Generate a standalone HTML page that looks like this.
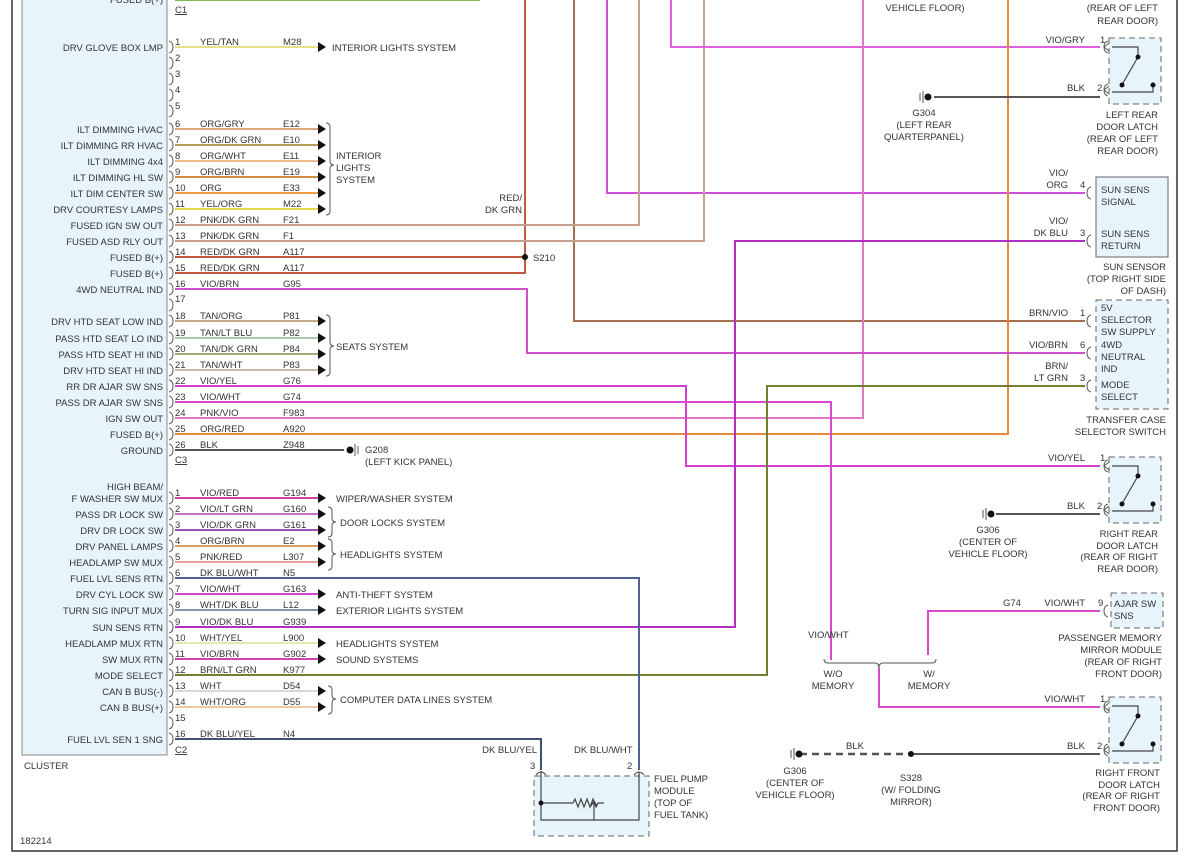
<!DOCTYPE html>
<html><head><meta charset="utf-8"><style>
html,body{margin:0;padding:0;background:#fff}
svg{display:block}
text{font-family:"Liberation Sans",sans-serif;font-size:9.5px;fill:#333}
.e{text-anchor:end}
.w{fill:none;stroke-width:2}
</style></head><body>
<svg width="1188" height="867" viewBox="0 0 1188 867" xmlns="http://www.w3.org/2000/svg">
<defs>
<path id="ar" d="M0,-5 L8,0 L0,5 Z" fill="#111"/>
<path id="cn" d="M0,-6 q4,1 4,6 q0,5 -4,6" fill="none" stroke="#555" stroke-width="1"/>
<path id="fc" d="M0,-6 q-4,1 -4,6 q0,5 4,6 M-4,0 l5,-4 M-4,0 l5,4" fill="none" stroke="#555" stroke-width="1"/>
<path id="fs" d="M0,-6 q-4,1 -4,6 q0,5 4,6" fill="none" stroke="#555" stroke-width="1"/>
<g id="gnd"><line x1="-8" y1="-4" x2="-8" y2="4" stroke="#555"/><line x1="-5" y1="-6" x2="-5" y2="6" stroke="#555"/><circle cx="0" cy="0" r="3.5" fill="#111"/></g>
<g id="latch">
<rect x="0" y="0" width="52" height="66" fill="#e8f4fc" stroke="#666" stroke-dasharray="6,4"/>
<path d="M3,9 H29 V19 M29,19 L14,45 M3,54 H44 V46" fill="none" stroke="#444" stroke-width="1.2"/>
<circle cx="29" cy="19" r="2.5" fill="#111"/><circle cx="13" cy="47" r="2.5" fill="#111"/><circle cx="44" cy="47" r="2.5" fill="#111"/>
</g>
</defs>
<!-- outer frame -->
<rect x="12" y="-5" width="1165" height="856" fill="none" stroke="#333" stroke-width="1.5"/>
<!-- cluster -->
<rect x="22" y="-5" width="145" height="760" fill="#e8f4fc" stroke="#888"/>
<text x="24" y="769">CLUSTER</text>
<text x="20" y="844">182214</text>
<text x="163" y="3" class="e">FUSED B(+)</text>
<line x1="175" y1="0" x2="480" y2="0" stroke="#80c050" stroke-width="2"/>
<text x="175" y="13" text-decoration="underline">C1</text>
<text x="175" y="463" text-decoration="underline">C3</text>
<text x="175" y="753" text-decoration="underline">C2</text>

<!-- verticals and routed wires -->
<path class="w" stroke="#c05a40" d="M175,257 H525 M175,273 H525 V0"/>
<circle cx="525" cy="257" r="3" fill="#111"/><text x="533" y="261">S210</text>
<text x="522" y="201" class="e">RED/</text><text x="522" y="213" class="e">DK GRN</text>
<path class="w" stroke="#a86e50" d="M574,0 V321 H1085"/>
<path class="w" stroke="#d050d8" d="M607,0 V193 H1085"/>
<path class="w" stroke="#c8a090" d="M175,225 H639 V0 M175,241 H704 V0"/>
<path class="w" stroke="#e060e0" d="M671,0 V47 H1100"/>
<path class="w" stroke="#e078c8" d="M175,418 H863 V0"/>
<path class="w" stroke="#e88838" d="M175,434 H1008 V0"/>
<path class="w" stroke="#d050c8" d="M175,289 H527 V353 H1085"/>
<path class="w" stroke="#d040d0" d="M175,386 H686 V466 H1100"/>
<path class="w" stroke="#d848d0" d="M175,402 H831 V660"/>
<path class="w" stroke="#b030c0" d="M175,627 H735 V241 H1085"/>
<path class="w" stroke="#708030" d="M175,675 H767 V386 H1085"/>
<path class="w" stroke="#506090" d="M175,578 H639 V770"/>
<path class="w" stroke="#405070" d="M175,739 H541 V770"/>
<path class="w" stroke="#d848d0" d="M928,655 V611 H1100 M879,668 V707 H1100"/>
<path fill="none" stroke="#555" d="M824,659 q0,4 4,4 H875 q4,0 4,5 q0,-5 4,-5 H932 q4,0 4,-4"/>
<text x="808" y="638">VIO/WHT</text>
<text x="833" y="677" text-anchor="middle">W/O</text><text x="833" y="689" text-anchor="middle">MEMORY</text>
<text x="929" y="677" text-anchor="middle">W/</text><text x="929" y="689" text-anchor="middle">MEMORY</text>

<!-- C1 rows -->
<g>
<text x="163" y="51" class="e">DRV GLOVE BOX LMP</text><text x="175" y="45">1</text><text x="200" y="45">YEL/TAN</text><text x="283" y="45">M28</text><line x1="175" y1="47" x2="318" y2="47" stroke="#e6e08a" stroke-width="2"/><use href="#ar" x="318" y="47"/><text x="332" y="51">INTERIOR LIGHTS SYSTEM</text>
<text x="175" y="61">2</text><text x="175" y="77">3</text><text x="175" y="93">4</text><text x="175" y="109">5</text>
<text x="163" y="133" class="e">ILT DIMMING HVAC</text><text x="175" y="127">6</text><text x="200" y="127">ORG/GRY</text><text x="283" y="127">E12</text><line x1="175" y1="129" x2="318" y2="129" stroke="#e0a878" stroke-width="2"/><use href="#ar" x="318" y="129"/>
<text x="163" y="149" class="e">ILT DIMMING RR HVAC</text><text x="175" y="143">7</text><text x="200" y="143">ORG/DK GRN</text><text x="283" y="143">E10</text><line x1="175" y1="145" x2="318" y2="145" stroke="#b89a58" stroke-width="2"/><use href="#ar" x="318" y="145"/>
<text x="163" y="165" class="e">ILT DIMMING 4x4</text><text x="175" y="159">8</text><text x="200" y="159">ORG/WHT</text><text x="283" y="159">E11</text><line x1="175" y1="161" x2="318" y2="161" stroke="#f0b888" stroke-width="2"/><use href="#ar" x="318" y="161"/>
<text x="163" y="181" class="e">ILT DIMMING HL SW</text><text x="175" y="175">9</text><text x="200" y="175">ORG/BRN</text><text x="283" y="175">E19</text><line x1="175" y1="177" x2="318" y2="177" stroke="#d08a48" stroke-width="2"/><use href="#ar" x="318" y="177"/>
<text x="163" y="197" class="e">ILT DIM CENTER SW</text><text x="175" y="191">10</text><text x="200" y="191">ORG</text><text x="283" y="191">E33</text><line x1="175" y1="193" x2="318" y2="193" stroke="#f09a40" stroke-width="2"/><use href="#ar" x="318" y="193"/>
<text x="163" y="213" class="e">DRV COURTESY LAMPS</text><text x="175" y="207">11</text><text x="200" y="207">YEL/ORG</text><text x="283" y="207">M22</text><line x1="175" y1="209" x2="318" y2="209" stroke="#e8d84a" stroke-width="2"/><use href="#ar" x="318" y="209"/>
<path fill="none" stroke="#555" d="M326,123 q4,0 4,4 V161 q0,4 4,4 q-4,0 -4,4 V211 q0,4 -4,4"/>
<text x="336" y="159">INTERIOR</text><text x="336" y="171">LIGHTS</text><text x="336" y="183">SYSTEM</text>
<text x="163" y="229" class="e">FUSED IGN SW OUT</text><text x="175" y="223">12</text><text x="200" y="223">PNK/DK GRN</text><text x="283" y="223">F21</text>
<text x="163" y="245" class="e">FUSED ASD RLY OUT</text><text x="175" y="239">13</text><text x="200" y="239">PNK/DK GRN</text><text x="283" y="239">F1</text>
<text x="163" y="261" class="e">FUSED B(+)</text><text x="175" y="255">14</text><text x="200" y="255">RED/DK GRN</text><text x="283" y="255">A117</text>
<text x="163" y="277" class="e">FUSED B(+)</text><text x="175" y="271">15</text><text x="200" y="271">RED/DK GRN</text><text x="283" y="271">A117</text>
<text x="163" y="293" class="e">4WD NEUTRAL IND</text><text x="175" y="287">16</text><text x="200" y="287">VIO/BRN</text><text x="283" y="287">G95</text>
<text x="175" y="302">17</text>
<text x="163" y="325" class="e">DRV HTD SEAT LOW IND</text><text x="175" y="319">18</text><text x="200" y="319">TAN/ORG</text><text x="283" y="319">P81</text><line x1="175" y1="321" x2="318" y2="321" stroke="#c8aa80" stroke-width="2"/><use href="#ar" x="318" y="321"/>
<text x="163" y="342" class="e">PASS HTD SEAT LO IND</text><text x="175" y="336">19</text><text x="200" y="336">TAN/LT BLU</text><text x="283" y="336">P82</text><line x1="175" y1="338" x2="318" y2="338" stroke="#a8c8b0" stroke-width="2"/><use href="#ar" x="318" y="338"/>
<text x="163" y="358" class="e">PASS HTD SEAT HI IND</text><text x="175" y="352">20</text><text x="200" y="352">TAN/DK GRN</text><text x="283" y="352">P84</text><line x1="175" y1="354" x2="318" y2="354" stroke="#a8a878" stroke-width="2"/><use href="#ar" x="318" y="354"/>
<text x="163" y="374" class="e">DRV HTD SEAT HI IND</text><text x="175" y="368">21</text><text x="200" y="368">TAN/WHT</text><text x="283" y="368">P83</text><line x1="175" y1="370" x2="318" y2="370" stroke="#c8bca8" stroke-width="2"/><use href="#ar" x="318" y="370"/>
<path fill="none" stroke="#555" d="M326,315 q4,0 4,4 V342 q0,4 4,4 q-4,0 -4,4 V372 q0,4 -4,4"/>
<text x="336" y="350">SEATS SYSTEM</text>
<text x="163" y="390" class="e">RR DR AJAR SW SNS</text><text x="175" y="384">22</text><text x="200" y="384">VIO/YEL</text><text x="283" y="384">G76</text>
<text x="163" y="406" class="e">PASS DR AJAR SW SNS</text><text x="175" y="400">23</text><text x="200" y="400">VIO/WHT</text><text x="283" y="400">G74</text>
<text x="163" y="422" class="e">IGN SW OUT</text><text x="175" y="416">24</text><text x="200" y="416">PNK/VIO</text><text x="283" y="416">F983</text>
<text x="163" y="438" class="e">FUSED B(+)</text><text x="175" y="432">25</text><text x="200" y="432">ORG/RED</text><text x="283" y="432">A920</text>
<text x="163" y="454" class="e">GROUND</text><text x="175" y="448">26</text><text x="200" y="448">BLK</text><text x="283" y="448">Z948</text>
<line x1="175" y1="450" x2="344" y2="450" stroke="#555" stroke-width="2"/>
<g transform="translate(350,450) scale(-1,1)"><use href="#gnd"/></g>
<text x="365" y="453">G208</text><text x="365" y="465">(LEFT KICK PANEL)</text>
</g>

<!-- C2 rows -->
<g>
<text x="163" y="490" class="e">HIGH BEAM/</text><text x="163" y="502" class="e">F WASHER SW MUX</text><text x="175" y="496">1</text><text x="200" y="496">VIO/RED</text><text x="283" y="496">G194</text><line x1="175" y1="498" x2="318" y2="498" stroke="#d040a8" stroke-width="2"/><use href="#ar" x="318" y="498"/><text x="336" y="502">WIPER/WASHER SYSTEM</text>
<text x="163" y="518" class="e">PASS DR LOCK SW</text><text x="175" y="512">2</text><text x="200" y="512">VIO/LT GRN</text><text x="283" y="512">G160</text><line x1="175" y1="514" x2="318" y2="514" stroke="#c070c8" stroke-width="2"/><use href="#ar" x="318" y="514"/>
<text x="163" y="534" class="e">DRV DR LOCK SW</text><text x="175" y="528">3</text><text x="200" y="528">VIO/DK GRN</text><text x="283" y="528">G161</text><line x1="175" y1="530" x2="318" y2="530" stroke="#a050b0" stroke-width="2"/><use href="#ar" x="318" y="530"/>
<path fill="none" stroke="#555" d="M328,507 q4,0 4,4 V518 q0,4 4,4 q-4,0 -4,4 V533 q0,4 -4,4"/><text x="340" y="526">DOOR LOCKS SYSTEM</text>
<text x="163" y="550" class="e">DRV PANEL LAMPS</text><text x="175" y="544">4</text><text x="200" y="544">ORG/BRN</text><text x="283" y="544">E2</text><line x1="175" y1="546" x2="318" y2="546" stroke="#d8a060" stroke-width="2"/><use href="#ar" x="318" y="546"/>
<text x="163" y="566" class="e">HEADLAMP SW MUX</text><text x="175" y="560">5</text><text x="200" y="560">PNK/RED</text><text x="283" y="560">L307</text><line x1="175" y1="562" x2="318" y2="562" stroke="#e8a0a0" stroke-width="2"/><use href="#ar" x="318" y="562"/>
<path fill="none" stroke="#555" d="M328,539 q4,0 4,4 V550 q0,4 4,4 q-4,0 -4,4 V566 q0,4 -4,4"/><text x="340" y="558">HEADLIGHTS SYSTEM</text>
<text x="163" y="582" class="e">FUEL LVL SENS RTN</text><text x="175" y="576">6</text><text x="200" y="576">DK BLU/WHT</text><text x="283" y="576">N5</text>
<text x="163" y="598" class="e">DRV CYL LOCK SW</text><text x="175" y="592">7</text><text x="200" y="592">VIO/WHT</text><text x="283" y="592">G163</text><line x1="175" y1="594" x2="318" y2="594" stroke="#d048d0" stroke-width="2"/><use href="#ar" x="318" y="594"/><text x="336" y="598">ANTI-THEFT SYSTEM</text>
<text x="163" y="614" class="e">TURN SIG INPUT MUX</text><text x="175" y="608">8</text><text x="200" y="608">WHT/DK BLU</text><text x="283" y="608">L12</text><line x1="175" y1="610" x2="318" y2="610" stroke="#8890b0" stroke-width="2"/><use href="#ar" x="318" y="610"/><text x="336" y="614">EXTERIOR LIGHTS SYSTEM</text>
<text x="163" y="631" class="e">SUN SENS RTN</text><text x="175" y="625">9</text><text x="200" y="625">VIO/DK BLU</text><text x="283" y="625">G939</text>
<text x="163" y="647" class="e">HEADLAMP MUX RTN</text><text x="175" y="641">10</text><text x="200" y="641">WHT/YEL</text><text x="283" y="641">L900</text><line x1="175" y1="643" x2="318" y2="643" stroke="#e8e8b0" stroke-width="2"/><use href="#ar" x="318" y="643"/><text x="336" y="647">HEADLIGHTS SYSTEM</text>
<text x="163" y="663" class="e">SW MUX RTN</text><text x="175" y="657">11</text><text x="200" y="657">VIO/BRN</text><text x="283" y="657">G902</text><line x1="175" y1="659" x2="318" y2="659" stroke="#d040b8" stroke-width="2"/><use href="#ar" x="318" y="659"/><text x="336" y="663">SOUND SYSTEMS</text>
<text x="163" y="679" class="e">MODE SELECT</text><text x="175" y="673">12</text><text x="200" y="673">BRN/LT GRN</text><text x="283" y="673">K977</text>
<text x="163" y="695" class="e">CAN B BUS(-)</text><text x="175" y="689">13</text><text x="200" y="689">WHT</text><text x="283" y="689">D54</text><line x1="175" y1="691" x2="318" y2="691" stroke="#d8d8d8" stroke-width="2"/><use href="#ar" x="318" y="691"/>
<text x="163" y="711" class="e">CAN B BUS(+)</text><text x="175" y="705">14</text><text x="200" y="705">WHT/ORG</text><text x="283" y="705">D55</text><line x1="175" y1="707" x2="318" y2="707" stroke="#f0c8a8" stroke-width="2"/><use href="#ar" x="318" y="707"/>
<path fill="none" stroke="#555" d="M328,686 q4,0 4,4 V695 q0,4 4,4 q-4,0 -4,4 V710 q0,4 -4,4"/><text x="340" y="703">COMPUTER DATA LINES SYSTEM</text>
<text x="175" y="721">15</text>
<text x="163" y="743" class="e">FUEL LVL SEN 1 SNG</text><text x="175" y="737">16</text><text x="200" y="737">DK BLU/YEL</text><text x="283" y="737">N4</text>
</g>
<!-- connector glyphs -->
<g>
<use href="#cn" x="169" y="47"/><use href="#cn" x="169" y="63"/><use href="#cn" x="169" y="79"/><use href="#cn" x="169" y="95"/><use href="#cn" x="169" y="111"/>
<use href="#cn" x="169" y="129"/><use href="#cn" x="169" y="145"/><use href="#cn" x="169" y="161"/><use href="#cn" x="169" y="177"/><use href="#cn" x="169" y="193"/><use href="#cn" x="169" y="209"/><use href="#cn" x="169" y="225"/><use href="#cn" x="169" y="241"/><use href="#cn" x="169" y="257"/><use href="#cn" x="169" y="273"/><use href="#cn" x="169" y="289"/><use href="#cn" x="169" y="305"/><use href="#cn" x="169" y="321"/><use href="#cn" x="169" y="338"/><use href="#cn" x="169" y="354"/><use href="#cn" x="169" y="370"/><use href="#cn" x="169" y="386"/><use href="#cn" x="169" y="402"/><use href="#cn" x="169" y="418"/><use href="#cn" x="169" y="434"/><use href="#cn" x="169" y="450"/>
<use href="#cn" x="169" y="498"/><use href="#cn" x="169" y="514"/><use href="#cn" x="169" y="530"/><use href="#cn" x="169" y="546"/><use href="#cn" x="169" y="562"/><use href="#cn" x="169" y="578"/><use href="#cn" x="169" y="594"/><use href="#cn" x="169" y="610"/><use href="#cn" x="169" y="627"/><use href="#cn" x="169" y="643"/><use href="#cn" x="169" y="659"/><use href="#cn" x="169" y="675"/><use href="#cn" x="169" y="691"/><use href="#cn" x="169" y="707"/><use href="#cn" x="169" y="723"/><use href="#cn" x="169" y="739"/>
</g>

<!-- top right texts -->
<text x="925" y="11" text-anchor="middle">VEHICLE FLOOR)</text>
<text x="1158" y="11" class="e">(REAR OF LEFT</text><text x="1158" y="24" class="e">REAR DOOR)</text>
<!-- left rear latch -->
<use href="#latch" x="1109" y="38"/>
<text x="1085" y="43" class="e">VIO/GRY</text><text x="1100" y="43">1</text><use href="#fc" x="1108" y="47"/>
<line x1="934" y1="97" x2="1100" y2="97" stroke="#555" stroke-width="2"/>
<text x="1085" y="91" class="e">BLK</text><text x="1097" y="91">2</text><use href="#fc" x="1108" y="90"/>
<use href="#gnd" x="928" y="97"/>
<text x="924" y="116" text-anchor="middle">G304</text><text x="924" y="128" text-anchor="middle">(LEFT REAR</text><text x="924" y="140" text-anchor="middle">QUARTERPANEL)</text>
<text x="1158" y="118" class="e">LEFT REAR</text><text x="1158" y="130" class="e">DOOR LATCH</text><text x="1158" y="142" class="e">(REAR OF LEFT</text><text x="1158" y="154" class="e">REAR DOOR)</text>
<!-- sun sensor -->
<rect x="1096" y="177" width="72" height="80" fill="#e8f4fc" stroke="#666"/>
<text x="1101" y="193">SUN SENS</text><text x="1101" y="205">SIGNAL</text><text x="1101" y="237">SUN SENS</text><text x="1101" y="249">RETURN</text>
<text x="1068" y="176" class="e">VIO/</text><text x="1068" y="188" class="e">ORG</text><text x="1080" y="188">4</text><use href="#fs" x="1091" y="193"/>
<text x="1068" y="224" class="e">VIO/</text><text x="1068" y="236" class="e">DK BLU</text><text x="1080" y="236">3</text><use href="#fs" x="1091" y="241"/>
<text x="1166" y="270" class="e">SUN SENSOR</text><text x="1166" y="282" class="e">(TOP RIGHT SIDE</text><text x="1166" y="294" class="e">OF DASH)</text>
<!-- transfer case -->
<rect x="1096" y="300" width="72" height="109" fill="#e8f4fc" stroke="#666" stroke-dasharray="6,4"/>
<text x="1101" y="311">5V</text><text x="1101" y="323">SELECTOR</text><text x="1101" y="335">SW SUPPLY</text><text x="1101" y="348">4WD</text><text x="1101" y="360">NEUTRAL</text><text x="1101" y="372">IND</text><text x="1101" y="388">MODE</text><text x="1101" y="400">SELECT</text>
<text x="1068" y="316" class="e">BRN/VIO</text><text x="1080" y="316">1</text><use href="#fs" x="1091" y="321"/>
<text x="1068" y="348" class="e">VIO/BRN</text><text x="1080" y="348">6</text><use href="#fs" x="1091" y="353"/>
<text x="1068" y="369" class="e">BRN/</text><text x="1068" y="381" class="e">LT GRN</text><text x="1080" y="381">3</text><use href="#fs" x="1091" y="386"/>
<text x="1166" y="423" class="e">TRANSFER CASE</text><text x="1166" y="435" class="e">SELECTOR SWITCH</text>
<!-- right rear latch -->
<use href="#latch" x="1109" y="457"/>
<text x="1085" y="461" class="e">VIO/YEL</text><text x="1100" y="461">1</text><use href="#fc" x="1108" y="466"/>
<line x1="996" y1="514" x2="1100" y2="514" stroke="#555" stroke-width="2"/>
<text x="1085" y="509" class="e">BLK</text><text x="1097" y="509">2</text><use href="#fc" x="1108" y="510"/>
<use href="#gnd" x="991" y="514"/>
<text x="988" y="533" text-anchor="middle">G306</text><text x="988" y="545" text-anchor="middle">(CENTER OF</text><text x="988" y="557" text-anchor="middle">VEHICLE FLOOR)</text>
<text x="1158" y="537" class="e">RIGHT REAR</text><text x="1158" y="549" class="e">DOOR LATCH</text><text x="1158" y="560" class="e">(REAR OF RIGHT</text><text x="1158" y="572" class="e">REAR DOOR)</text>
<!-- mirror module -->
<rect x="1111" y="593" width="52" height="35" fill="#e8f4fc" stroke="#666" stroke-dasharray="6,4"/>
<text x="1114" y="607">AJAR SW</text><text x="1114" y="619">SNS</text>
<text x="1003" y="606">G74</text><text x="1085" y="606" class="e">VIO/WHT</text><text x="1098" y="606">9</text><use href="#fs" x="1108" y="611"/>
<text x="1162" y="641" class="e">PASSENGER MEMORY</text><text x="1162" y="653" class="e">MIRROR MODULE</text><text x="1162" y="665" class="e">(REAR OF RIGHT</text><text x="1162" y="677" class="e">FRONT DOOR)</text>
<!-- right front latch -->
<use href="#latch" x="1109" y="697"/>
<text x="1085" y="702" class="e">VIO/WHT</text><text x="1100" y="702">1</text><use href="#fc" x="1108" y="707"/>
<line x1="800" y1="754" x2="911" y2="754" stroke="#555" stroke-width="2.5" stroke-dasharray="7,5"/>
<line x1="911" y1="754" x2="1100" y2="754" stroke="#555" stroke-width="2"/>
<circle cx="911" cy="754" r="3" fill="#111"/>
<text x="1085" y="749" class="e">BLK</text><text x="1097" y="749">2</text><use href="#fc" x="1108" y="750"/>
<text x="855" y="749" text-anchor="middle">BLK</text>
<use href="#gnd" x="799" y="754"/>
<text x="795" y="774" text-anchor="middle">G306</text><text x="795" y="786" text-anchor="middle">(CENTER OF</text><text x="795" y="798" text-anchor="middle">VEHICLE FLOOR)</text>
<text x="911" y="781" text-anchor="middle">S328</text><text x="911" y="793" text-anchor="middle">(W/ FOLDING</text><text x="911" y="805" text-anchor="middle">MIRROR)</text>
<text x="1160" y="776" class="e">RIGHT FRONT</text><text x="1160" y="788" class="e">DOOR LATCH</text><text x="1160" y="799" class="e">(REAR OF RIGHT</text><text x="1160" y="811" class="e">FRONT DOOR)</text>
<!-- fuel pump module -->
<rect x="534" y="776" width="115" height="60" fill="#e8f4fc" stroke="#666" stroke-dasharray="6,4"/>
<path d="M541,771 v34 M541,803 H573 l2,-4 3,8 3,-8 3,8 3,-8 3,8 3,-8 3,8 2,-4 H604 M541,805 V820 H639 V772 M594,820 V802 M591,806 l3,-5 3,5" fill="none" stroke="#444" stroke-width="1.2"/>
<circle cx="541" cy="803" r="2.5" fill="#111"/>
<path d="M536,775 q5,-6 10,0 M634,775 q5,-6 10,0" fill="none" stroke="#444"/>
<text x="537" y="753" class="e">DK BLU/YEL</text><text x="574" y="753">DK BLU/WHT</text>
<text x="530" y="769">3</text><text x="627" y="769">2</text>
<text x="654" y="782">FUEL PUMP</text><text x="654" y="794">MODULE</text><text x="654" y="806">(TOP OF</text><text x="654" y="818">FUEL TANK)</text>
</svg>
</body></html>
